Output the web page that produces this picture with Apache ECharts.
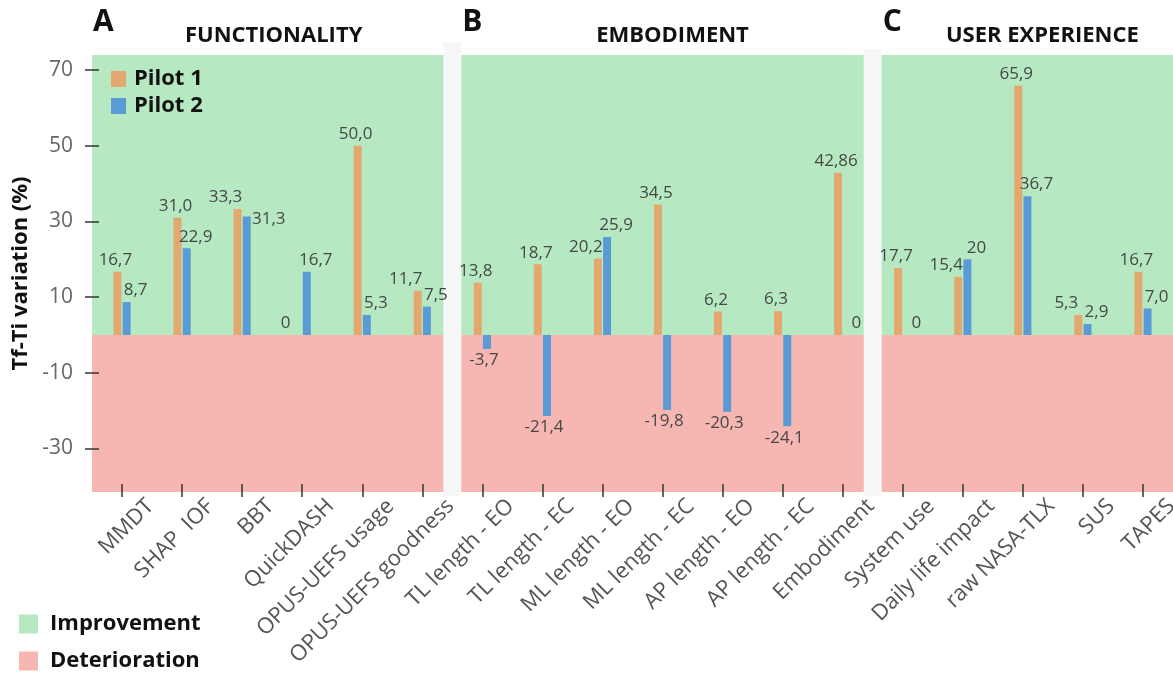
<!DOCTYPE html>
<html>
<head>
<meta charset="utf-8">
<script src="https://cdn.jsdelivr.net/npm/echarts@6/dist/echarts.min.js"></script>
<style>
  html, body { margin: 0; padding: 0; background: #ffffff; }
  #chart { width: 1173px; height: 674px; }
</style>
</head>
<body>
<div id="chart"></div>
<script>
// Outcome measures, grouped in three domains
const categories = [
  'MMDT', 'SHAP  IOF', 'BBT', 'QuickDASH', 'OPUS-UEFS usage', 'OPUS-UEFS goodness',
  'TL length - EO', 'TL length - EC', 'ML length - EO', 'ML length - EC',
  'AP length - EO', 'AP length - EC', 'Embodiment',
  'System use', 'Daily life impact', 'raw NASA-TLX', 'SUS', 'TAPES'
];
// Tf-Ti variation (%) per pilot
const pilot1 = [16.7, 31.0, 33.3, 0, 50.0, 11.7, 13.8, 18.7, 20.2, 34.5, 6.2, 6.3, 42.86, 17.7, 15.4, 65.9, 5.3, 16.7];
const pilot2 = [8.7, 22.9, 31.3, 16.7, 5.3, 7.5, -3.7, -21.4, 25.9, -19.8, -20.3, -24.1, 0, 0, 20, 36.7, 2.9, 7.0];
// decimals shown in each value label
const pilot1Decimals = [1, 1, 1, 0, 1, 1, 1, 1, 1, 1, 1, 1, 2, 1, 1, 1, 1, 1];
const pilot2Decimals = [1, 1, 1, 1, 1, 1, 1, 1, 1, 1, 1, 1, 0, 0, 0, 1, 1, 1];
// domains: first and last category index of each
const domains = [
  { letter: 'A', title: 'FUNCTIONALITY', first: 0, last: 5 },
  { letter: 'B', title: 'EMBODIMENT', first: 6, last: 12 },
  { letter: 'C', title: 'USER EXPERIENCE', first: 13, last: 17 }
];
const yTicks = [-30, -10, 10, 30, 50, 70];
const yMin = -41.5;
const yMax = 74;

const FONT = 'Open Sans';
const C_P1 = '#e3a870';
const C_P2 = '#5b9bd5';
const C_GOOD = '#b6e9c2';
const C_BAD = '#f6b6b2';
const C_SEP = '#f7f7f7';
// horizontal nudge of each domain heading from its panel centre
const HEADING_SHIFT = [6, 10, 15];

const fmt = (v, d) => v.toFixed(d).replace('.', ',');

const labelBase = { show: true, fontFamily: FONT, fontSize: 17, color: '#474747', distance: 3 };

// Value labels: pull the Pilot 1 label aside when the Pilot 2 label would sit next to it,
// and put the Pilot 2 label beside its bar when both bars are almost equally tall.
const p1Data = pilot1.map((v, i) => {
  const crowded = pilot2[i] >= 0 && pilot2[i] > v - 6;
  return {
    value: v,
    label: Object.assign({}, labelBase, {
      position: v < 0 ? 'bottom' : 'top',
      offset: [crowded ? -12 : -2, 0],
      formatter: fmt(v, pilot1Decimals[i])
    })
  };
});
const p2Data = pilot2.map((v, i) => {
  const level = v > 5 && Math.abs(v - pilot1[i]) < 3;
  return {
    value: v,
    label: Object.assign({}, labelBase, {
      position: v < 0 ? 'bottom' : 'top',
      offset: v < 0 ? [-3, 0] : (level ? [22, 14] : [9, 0]),
      formatter: fmt(v, pilot2Decimals[i])
    })
  };
});

const chart = echarts.init(document.getElementById('chart'), null, { renderer: 'canvas' });

const option = {
  animation: false,
  backgroundColor: '#ffffff',
  textStyle: { fontFamily: FONT },
  grid: { left: 92, right: 0, top: 55, bottom: 182, containLabel: false, outerBoundsMode: 'none' },
  legend: [
    {
      data: ['Pilot 1', 'Pilot 2'],
      orient: 'vertical',
      left: 111, top: 68,
      padding: 0,
      icon: 'rect',
      itemWidth: 15, itemHeight: 16, itemGap: 5,
      selectedMode: false,
      textStyle: { fontFamily: FONT, fontSize: 22, fontWeight: 'bold', color: '#111', lineHeight: 22, padding: [0, 0, 0, 3] }
    },
    {
      data: ['Improvement', 'Deterioration'],
      orient: 'vertical',
      left: 19, top: 613,
      padding: 0,
      icon: 'rect',
      itemWidth: 19, itemHeight: 19, itemGap: 15,
      selectedMode: false,
      textStyle: { fontFamily: FONT, fontSize: 22, fontWeight: 'bold', color: '#111', lineHeight: 22, padding: [0, 0, 0, 7] }
    }
  ],
  xAxis: {
    type: 'category',
    data: categories,
    offset: -8,
    z: 5,
    axisLine: { show: false, onZero: false },
    axisTick: { show: true, alignWithLabel: true, length: 13, lineStyle: { color: '#333', width: 1.5 } },
    axisLabel: {
      interval: 0, rotate: 45, fontFamily: FONT, fontSize: 22, color: '#555',
      margin: 47, padding: [0, -40, 0, 0]
    }
  },
  yAxis: {
    type: 'value',
    min: yMin, max: yMax,
    offset: -7,
    z: 5,
    name: 'Tf-Ti variation (%)',
    nameLocation: 'middle',
    nameGap: 64,
    nameTextStyle: { fontFamily: FONT, fontSize: 22, fontWeight: 'bold', color: '#111' },
    axisLine: { show: false },
    splitLine: { show: false },
    axisTick: { show: true, length: 14, customValues: yTicks, lineStyle: { color: '#333', width: 1.5 } },
    axisLabel: { customValues: yTicks, fontFamily: FONT, fontSize: 21, color: '#666', margin: 26 }
  },
  series: [
    {
      name: 'Improvement', type: 'line', data: [],
      itemStyle: { color: C_GOOD }, lineStyle: { color: C_GOOD },
      markArea: { silent: true, itemStyle: { color: C_GOOD }, data: [[{ yAxis: 0 }, { yAxis: yMax }]] }
    },
    {
      name: 'Deterioration', type: 'line', data: [],
      itemStyle: { color: C_BAD }, lineStyle: { color: C_BAD },
      markArea: { silent: true, itemStyle: { color: C_BAD }, data: [[{ yAxis: yMin }, { yAxis: 0 }]] }
    },
    {
      name: 'Pilot 1', type: 'bar', barWidth: 8, barGap: '15%',
      itemStyle: { color: C_P1 }, data: p1Data, z: 3
    },
    {
      name: 'Pilot 2', type: 'bar', barWidth: 8, barGap: '15%',
      itemStyle: { color: C_P2 }, data: p2Data, z: 3
    }
  ]
};
chart.setOption(option);

// Separator strips between domains and the domain headings, placed from the category scale
const xAt = i => chart.convertToPixel({ xAxisIndex: 0 }, categories[i]);
const gridRect = chart.getModel().getComponent('grid').coordinateSystem.getRect();
const SEP_W = 18;
const graphics = [];
domains.forEach((d, k) => {
  const leftEdge = k === 0 ? gridRect.x : (xAt(d.first - 1) + xAt(d.first)) / 2 + SEP_W / 2;
  const rightEdge = k === domains.length - 1 ? gridRect.x + gridRect.width : (xAt(d.last) + xAt(d.last + 1)) / 2 - SEP_W / 2;
  if (k < domains.length - 1) {
    graphics.push({
      type: 'rect', z: 2, silent: true,
      shape: { x: rightEdge, y: gridRect.y - (k === 0 ? 13 : 6), width: SEP_W, height: gridRect.height + (k === 0 ? 13 : 6) + 4 },
      style: { fill: C_SEP }
    });
  }
  graphics.push({
    type: 'text', z: 10, silent: true,
    left: leftEdge + 1, top: 7,
    style: { text: d.letter, fontFamily: FONT, fontSize: 30, fontWeight: 'bold', fill: '#111' }
  });
  graphics.push({
    type: 'text', z: 10, silent: true,
    x: (leftEdge + rightEdge) / 2 + HEADING_SHIFT[k], y: 36,
    style: { text: d.title, fontFamily: FONT, fontSize: 22, fontWeight: 'bold', fill: '#111', align: 'center', verticalAlign: 'middle' }
  });
});
chart.setOption({ graphic: graphics });
</script>
</body>
</html>
